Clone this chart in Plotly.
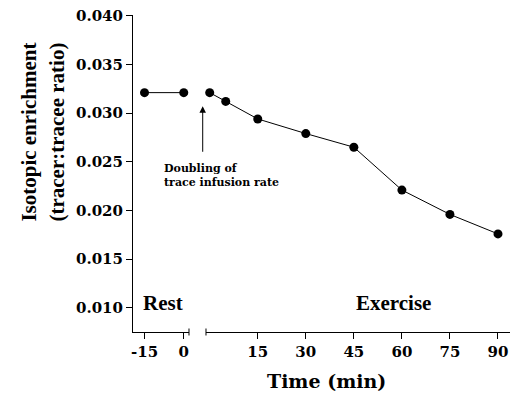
import plotly.graph_objects as go

# ---- data ----
rest_time = [-15, 0]
rest_enrich = [0.0321, 0.0321]
ex_time = [0, 5, 15, 30, 45, 60, 75, 90]
ex_enrich = [0.0321, 0.0312, 0.0294, 0.0279, 0.0265, 0.0221, 0.0196, 0.0176]
rest_ticks = [-15, 0]
rest_tick_labels = ["-15", "0"]
ex_ticks = [15, 30, 45, 60, 75, 90]
y_ticks = [0.010, 0.015, 0.020, 0.025, 0.030, 0.035, 0.040]

TICKFONT = dict(family="DejaVu Serif", size=15, color="black", weight="bold")
SERIF = "Liberation Serif"

fig = go.Figure()
line_style = dict(color="black", width=1)
marker_style = dict(color="black", size=9)

fig.add_trace(go.Scatter(x=rest_time, y=rest_enrich, mode="lines+markers",
                         line=line_style, marker=marker_style, cliponaxis=False,
                         xaxis="x", yaxis="y", showlegend=False))
fig.add_trace(go.Scatter(x=ex_time, y=ex_enrich, mode="lines+markers",
                         line=line_style, marker=marker_style, cliponaxis=False,
                         xaxis="x2", yaxis="y", showlegend=False))

axis_common = dict(showline=True, linecolor="black", linewidth=1,
                   ticks="outside", ticklen=6, tickcolor="black", tickwidth=1,
                   showgrid=False, zeroline=False, tickfont=TICKFONT)

fig.update_layout(
    width=510, height=395,
    margin=dict(l=133, r=0, t=15, b=63),
    plot_bgcolor="white", paper_bgcolor="white",
    xaxis=dict(domain=[0, 0.1485], range=[-19.4, 2.0], tickvals=rest_ticks,
               ticktext=rest_tick_labels, anchor="y", **axis_common),
    xaxis2=dict(domain=[0.1936, 1], range=[-1.16, 93.75], tickvals=ex_ticks,
                anchor="y", **axis_common),
    yaxis=dict(domain=[0, 1], range=[0.00753, 0.04007], tickvals=y_ticks,
               tickformat=".3f", anchor="x", **axis_common),
)

# axis break marks
for xp in [0.1485, 0.1936]:
    fig.add_shape(type="line", xref="paper", yref="paper",
                  x0=xp, x1=xp, y0=-0.011, y1=0.011,
                  line=dict(color="black", width=1))

# arrow
fig.add_annotation(x=0.1849, xref="paper", y=0.0307, yref="y",
                   text="", showarrow=True, ax=0, ay=47,
                   arrowhead=2, arrowsize=1.3, arrowwidth=1, arrowcolor="black")

fig.add_annotation(x=0.0761, xref="paper", y=0.02518, yref="y",
                   xanchor="left", yanchor="top", align="left", showarrow=False,
                   text="Doubling of<br>trace infusion rate",
                   font=dict(family="DejaVu Serif", size=11, color="black", weight="bold"))

fig.add_annotation(x=0.0804, xref="paper", y=0.01049, yref="y",
                   xanchor="center", yanchor="middle", showarrow=False,
                   text="Rest",
                   font=dict(family=SERIF, size=21, color="black", weight="bold"))
fig.add_annotation(x=0.6923, xref="paper", y=0.01049, yref="y",
                   xanchor="center", yanchor="middle", showarrow=False,
                   text="Exercise",
                   font=dict(family=SERIF, size=21, color="black", weight="bold"))

# axis titles
fig.add_annotation(x=0.514, xref="paper", y=-0.156, yref="paper",
                   xanchor="center", yanchor="middle", showarrow=False,
                   text="Time (min)",
                   font=dict(family="DejaVu Serif", size=19, color="black", weight="bold"))
fig.add_annotation(x=-0.240, xref="paper", y=0.6306, yref="paper",
                   xanchor="center", yanchor="middle", showarrow=False,
                   textangle=-90,
                   text="Isotopic enrichment<br>(tracer:tracee ratio)",
                   font=dict(family=SERIF, size=21, color="black", weight="bold"))

fig.write_html("out.html")
